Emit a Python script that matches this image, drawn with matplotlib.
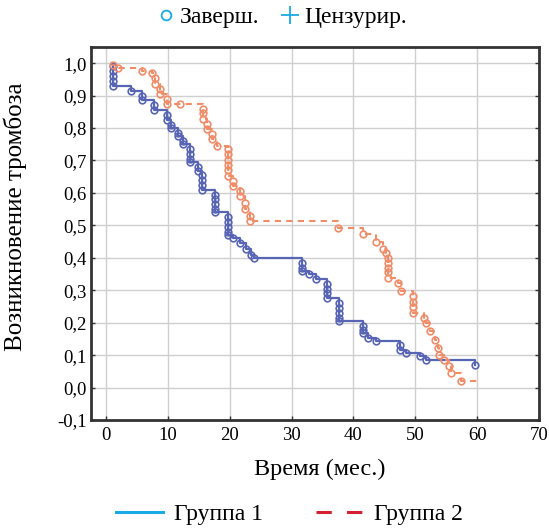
import matplotlib
matplotlib.use("Agg")
import matplotlib.pyplot as plt
from matplotlib.lines import Line2D
from matplotlib.ticker import FuncFormatter

# Group 1 (step points: time, survival)
g1_t = [1.0, 1.2, 1.2, 1.2, 1.2, 1.2, 4.0, 5.9, 5.9, 7.8, 7.8, 9.9, 9.9, 10.5, 10.5,
        11.7, 11.7, 12.5, 12.5, 13.6, 13.6, 13.6, 13.6, 14.9, 14.9,
        15.5, 15.5, 15.5, 15.5, 17.6, 17.6, 17.6, 17.6, 17.6,
        19.8, 19.8, 19.8, 19.8, 19.8, 20.5, 21.6, 22.7, 23.5, 24.0,
        31.6, 31.6, 31.6, 32.8, 34.0, 35.7, 35.7, 35.7, 35.7,
        37.6, 37.6, 37.6, 37.6, 37.6, 41.5, 41.5, 41.5, 42.4, 43.7,
        47.5, 47.5, 48.5, 50.7, 51.7, 59.6]
g1_s = [1.0, 0.99, 0.975, 0.96, 0.945, 0.93, 0.915, 0.90, 0.885, 0.87, 0.855, 0.84, 0.825, 0.81, 0.80,
        0.785, 0.775, 0.76, 0.75, 0.735, 0.72, 0.705, 0.695, 0.68, 0.668,
        0.655, 0.64, 0.625, 0.61, 0.595, 0.58, 0.565, 0.55, 0.54,
        0.525, 0.51, 0.495, 0.48, 0.47, 0.46, 0.447, 0.426, 0.41, 0.40,
        0.385, 0.37, 0.359, 0.349, 0.335, 0.32, 0.305, 0.29, 0.275,
        0.26, 0.245, 0.23, 0.215, 0.205, 0.19, 0.178, 0.168, 0.153, 0.145,
        0.13, 0.117, 0.106, 0.098, 0.086, 0.07]

# Group 2
g2_t = [1.0, 1.1, 1.9, 5.9, 7.5, 8.0, 8.0, 8.8, 8.8, 9.8, 9.8, 12.0,
        15.7, 15.7, 15.7, 16.3, 16.3, 17.1, 17.1, 17.9,
        19.7, 19.7, 19.7, 19.7, 19.7, 19.7, 20.5, 20.5, 21.6, 21.6, 22.4, 22.4, 23.2, 23.2,
        37.5, 41.5, 43.6, 44.8, 45.3, 45.6, 45.6, 45.6, 45.6, 45.6,
        47.2, 47.7, 49.6, 49.6, 49.6, 49.6, 51.4, 51.7, 52.3, 53.1, 53.6, 53.9,
        54.7, 55.5, 55.8, 57.3]
g2_s = [1.0, 0.995, 0.985, 0.976, 0.968, 0.955, 0.937, 0.92, 0.906, 0.89, 0.875, 0.875,
        0.86, 0.845, 0.829, 0.813, 0.798, 0.783, 0.767, 0.746,
        0.736, 0.72, 0.70, 0.685, 0.67, 0.653, 0.638, 0.622, 0.605, 0.591, 0.57, 0.55, 0.53, 0.514,
        0.493, 0.473, 0.449, 0.426, 0.416, 0.40, 0.385, 0.37, 0.355, 0.339,
        0.323, 0.297, 0.282, 0.265, 0.248, 0.23, 0.215, 0.20, 0.173, 0.148, 0.122, 0.101,
        0.086, 0.065, 0.045, 0.019]
g2_end = 60.0

x_ticks = [0, 10, 20, 30, 40, 50, 60, 70]
y_ticks = [-0.1, 0.0, 0.1, 0.2, 0.3, 0.4, 0.5, 0.6, 0.7, 0.8, 0.9, 1.0]

serif = "Liberation Serif"
plt.rcParams['font.family'] = [serif, 'DejaVu Serif']

fig = plt.figure(figsize=(5.49, 5.29), dpi=100)
ax = fig.add_axes([0.166, 0.206, 0.816, 0.706])

c1 = "#5865b5"
c2 = "#f08c68"

ax.plot(g1_t, g1_s, drawstyle='steps-post', color=c1, lw=1.6, zorder=3)
ax.plot(g1_t[1:], g1_s[1:], ls='none', marker='o', ms=4.8, mfc='none', mec=c1, mew=1.2, zorder=4)

ax.plot(g2_t + [g2_end], g2_s + [g2_s[-1]], drawstyle='steps-post', color=c2, lw=1.5,
        ls=(0, (3, 2.5)), zorder=3)
ax.plot(g2_t[1:], g2_s[1:], ls='none', marker='o', ms=4.8, mfc='none', mec=c2, mew=1.2, zorder=4)

ax.set_xlim(-2.4, 70)
ax.set_ylim(-0.1, 1.051)
ax.set_xticks(x_ticks)
ax.set_yticks(y_ticks)
ax.yaxis.set_major_formatter(FuncFormatter(lambda v, p: f"{v:.1f}".replace('.', ',').replace('-0,0', '0,0')))
ax.grid(True, color="#cfcfcf", lw=1.0)
ax.set_axisbelow(True)
for s in ax.spines.values():
    s.set_color("#333333")
    s.set_linewidth(2)
ax.tick_params(direction='in', length=3, width=1, labelsize=13.5, right=True, top=False,
               color="#333333")
ax.tick_params(axis='x', pad=5)
ax.tick_params(axis='y', pad=3)
ax.set_xlabel("Время (мес.)", fontsize=17.5)
ax.xaxis.set_label_coords(0.511, -0.105)
ax.set_ylabel("Возникновение тромбоза", fontsize=18)
ax.yaxis.set_label_coords(-0.143, 0.543)

cy = "#1aaae6"
h_top = [Line2D([], [], ls='none', marker='o', ms=7, mfc='none', mec=cy, mew=1.3),
         Line2D([], [], ls='none', marker='+', ms=13, mec=cy, mew=1.3)]
fig.legend(h_top, ["Заверш.", "Цензурир."], loc='center', bbox_to_anchor=(0.515, 0.967),
           ncol=2, frameon=False, fontsize=17, handlelength=0.6, handletextpad=0.3,
           columnspacing=1.0)

h_bot = [Line2D([], [], color=cy, lw=2.2),
         Line2D([], [], color="#d42030", lw=2.2, ls=(0, (5, 5)))]
fig.legend(h_bot, ["Группа 1", "Группа 2"], loc='center', bbox_to_anchor=(0.527, 0.027),
           ncol=2, frameon=False, fontsize=17, handlelength=2.0, handletextpad=0.45,
           columnspacing=2.25)

fig.savefig("out.png", dpi=100)
